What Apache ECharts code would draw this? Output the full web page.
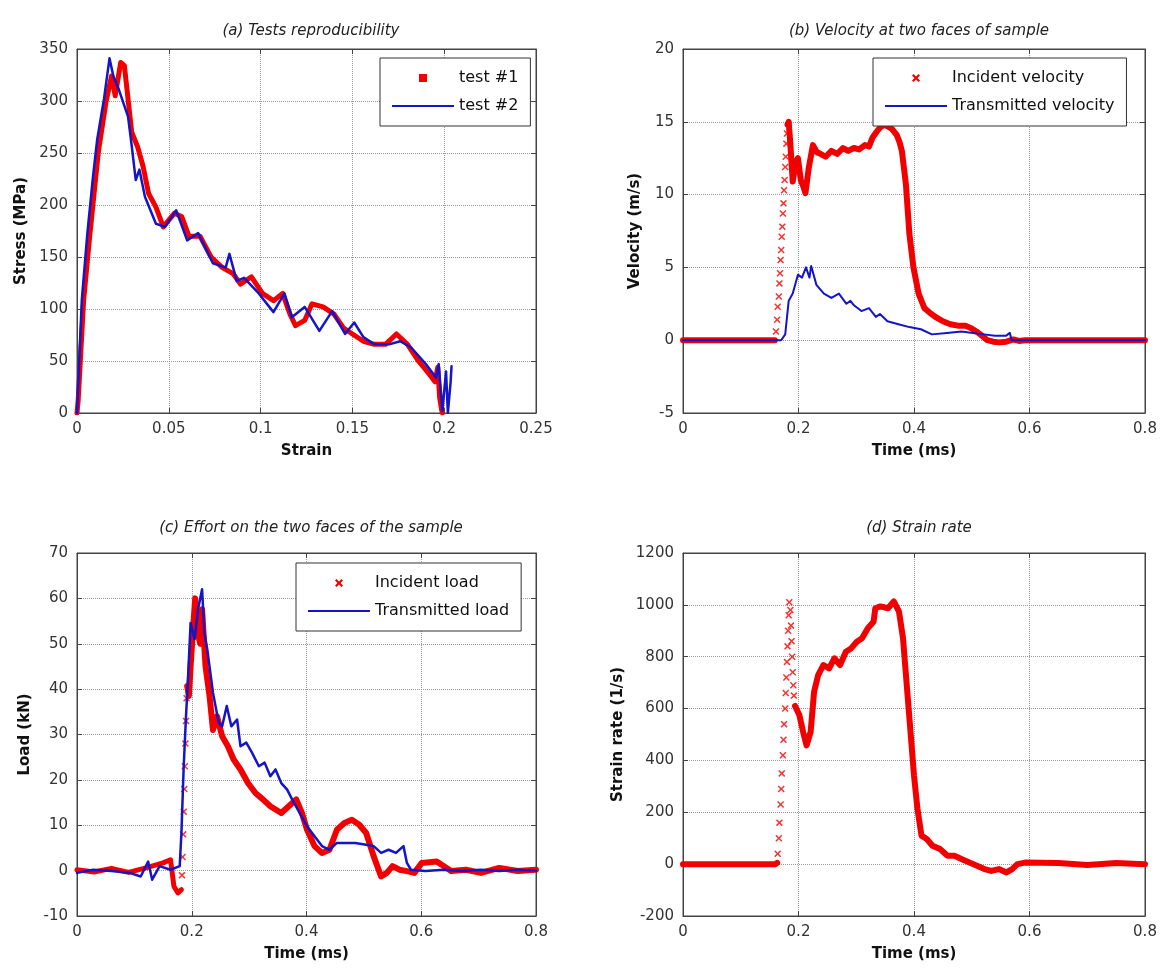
<!DOCTYPE html>
<html>
<head>
<meta charset="utf-8">
<script src="https://cdn.jsdelivr.net/npm/echarts@6/dist/echarts.min.js"></script>
<style>
  html, body { margin: 0; padding: 0; background: #fff; }
  #chart { width: 1161px; height: 968px; }
</style>
</head>
<body>
<div id="chart"></div>
<script>
const FONT = "DejaVu Sans";

// ---- (a) stress / strain ----
const stressTest1 = [
  [0, 0], [0.0006, 11], [0.0036, 108], [0.0067, 166], [0.0097, 218], [0.0117, 252],
  [0.0157, 298], [0.0188, 324], [0.0208, 305], [0.0238, 337], [0.0258, 334], [0.0278, 302],
  [0.0298, 270], [0.033, 256], [0.036, 237], [0.039, 211], [0.043, 198], [0.047, 179],
  [0.053, 192], [0.057, 189], [0.061, 170], [0.067, 170], [0.073, 150], [0.079, 140],
  [0.085, 134], [0.089, 124], [0.095, 131], [0.101, 115], [0.107, 108], [0.112, 115],
  [0.116, 95], [0.119, 84], [0.124, 89], [0.128, 105], [0.134, 102], [0.14, 95],
  [0.145, 82], [0.15, 76], [0.156, 69], [0.162, 66], [0.168, 66], [0.174, 76],
  [0.18, 66], [0.186, 50], [0.192, 37], [0.195, 30], [0.1965, 44], [0.1975, 15],
  [0.1985, 4], [0.199, 0]
];
const stressTest2 = [
  [0, 0], [0.0026, 108], [0.0056, 172], [0.0087, 227], [0.011, 263], [0.0147, 302],
  [0.0177, 341], [0.0198, 324], [0.0228, 311], [0.0278, 285], [0.0298, 257], [0.032, 224],
  [0.034, 234], [0.037, 208], [0.043, 182], [0.048, 179], [0.054, 195], [0.06, 166],
  [0.066, 173], [0.074, 144], [0.081, 140], [0.083, 153], [0.087, 127], [0.091, 130],
  [0.099, 115], [0.107, 97], [0.113, 115], [0.117, 92], [0.124, 102], [0.132, 79],
  [0.139, 98], [0.146, 76], [0.151, 87], [0.156, 73], [0.162, 66], [0.17, 66],
  [0.176, 69], [0.182, 63], [0.19, 47], [0.1956, 34], [0.197, 47], [0.199, 2],
  [0.201, 40], [0.202, 0], [0.2035, 30], [0.204, 45]
];

// ---- (b) velocities ----
const incidentVelBase = [[0, 0], [0.08, 0], [0.159, 0]];
const incidentVelRise = [
  [0.161, 0.6], [0.163, 1.4], [0.164, 2.3], [0.166, 3.0], [0.167, 3.9], [0.168, 4.6],
  [0.169, 5.5], [0.170, 6.2], [0.171, 7.1], [0.172, 7.8], [0.173, 8.7], [0.174, 9.4],
  [0.175, 10.3], [0.176, 11.0], [0.177, 11.9], [0.178, 12.6], [0.179, 13.5], [0.180, 14.2]
];
const incidentVelMain = [
  [0.181, 14.8], [0.183, 15.0], [0.186, 13.4], [0.19, 10.9], [0.195, 12.2], [0.199, 12.5],
  [0.204, 11.0], [0.209, 10.5], [0.212, 10.1], [0.218, 11.9], [0.225, 13.4], [0.232, 12.9],
  [0.238, 12.8], [0.247, 12.6], [0.257, 13.0], [0.267, 12.8], [0.277, 13.2], [0.286, 13.0],
  [0.296, 13.2], [0.305, 13.1], [0.315, 13.4], [0.322, 13.3], [0.328, 13.9], [0.335, 14.3],
  [0.341, 14.6], [0.348, 14.8], [0.354, 14.7], [0.362, 14.5], [0.37, 14.1], [0.375, 13.6],
  [0.379, 13.0], [0.386, 10.7], [0.392, 7.3], [0.399, 5.0], [0.408, 3.2], [0.418, 2.2],
  [0.427, 1.9], [0.437, 1.6], [0.45, 1.3], [0.463, 1.1], [0.476, 1.0], [0.489, 1.0],
  [0.5, 0.8], [0.508, 0.6], [0.518, 0.3], [0.527, 0], [0.537, -0.1], [0.547, -0.15],
  [0.56, -0.1], [0.572, 0.05], [0.582, -0.05], [0.592, 0], [0.7, 0], [0.8, 0]
];
const transmittedVel = [
  [0, 0], [0.1, 0], [0.17, 0], [0.177, 0.4], [0.183, 2.7], [0.19, 3.2], [0.199, 4.5],
  [0.206, 4.3], [0.213, 5.0], [0.219, 4.3], [0.222, 5.1], [0.231, 3.8], [0.244, 3.2],
  [0.257, 2.9], [0.27, 3.2], [0.283, 2.5], [0.29, 2.7], [0.296, 2.4], [0.309, 2.0],
  [0.322, 2.2], [0.334, 1.6], [0.341, 1.8], [0.354, 1.3], [0.373, 1.1], [0.392, 0.9],
  [0.412, 0.75], [0.431, 0.4], [0.457, 0.5], [0.482, 0.6], [0.502, 0.5], [0.521, 0.4],
  [0.54, 0.3], [0.559, 0.3], [0.566, 0.5], [0.569, 0], [0.7, 0], [0.8, 0]
];

// ---- (c) loads ----
const incidentLoadBase = [
  [0, 0.2], [0.03, -0.3], [0.06, 0.5], [0.09, -0.4], [0.12, 0.6], [0.15, 1.7],
  [0.163, 2.4], [0.169, -3.5], [0.176, -4.9], [0.182, -4.2]
];
const incidentLoadRise = [
  [0.183, -1], [0.184, 3], [0.185, 8], [0.186, 13], [0.187, 18], [0.188, 23],
  [0.189, 28], [0.19, 33], [0.191, 38]
];
const incidentLoadMain = [
  [0.192, 40.7], [0.195, 38.5], [0.198, 45], [0.201, 51], [0.206, 60], [0.211, 52],
  [0.215, 50], [0.218, 57.6], [0.224, 45], [0.231, 38.5], [0.237, 31], [0.244, 34],
  [0.253, 29.6], [0.263, 27.4], [0.273, 24.5], [0.285, 22.3], [0.298, 19.3], [0.311, 17.1],
  [0.324, 15.7], [0.337, 14.2], [0.356, 12.7], [0.369, 14.2], [0.382, 15.7], [0.392, 12.7],
  [0.401, 9.0], [0.414, 5.4], [0.427, 3.9], [0.44, 4.6], [0.453, 9.0], [0.466, 10.5],
  [0.479, 11.2], [0.492, 10.1], [0.504, 8.3], [0.517, 3.2], [0.53, -1.3], [0.54, -0.5],
  [0.55, 1.0], [0.562, 0.2], [0.575, -0.1], [0.588, -0.5], [0.601, 1.7], [0.627, 2.0],
  [0.652, -0.1], [0.678, 0.2], [0.704, -0.5], [0.736, 0.6], [0.768, -0.1], [0.8, 0.2]
];
const transmittedLoad = [
  [0, -0.5], [0.028, 0.2], [0.06, -0.1], [0.092, -0.5], [0.111, -1.3], [0.124, 2.0],
  [0.131, -2.0], [0.144, 1.0], [0.163, 0.2], [0.179, 1.0], [0.182, 8.3], [0.186, 23],
  [0.19, 34], [0.194, 43.8], [0.198, 54.6], [0.205, 51], [0.211, 57.6], [0.218, 62],
  [0.222, 52.5], [0.227, 48.8], [0.237, 39.2], [0.247, 32.6], [0.253, 31.8], [0.261, 36.3],
  [0.269, 31.8], [0.279, 33.3], [0.285, 27.4], [0.295, 28.2], [0.305, 26], [0.317, 23],
  [0.327, 23.8], [0.337, 20.8], [0.346, 22.3], [0.356, 19.3], [0.366, 17.9], [0.375, 15.7],
  [0.388, 12.7], [0.401, 9.8], [0.414, 7.6], [0.427, 5.4], [0.44, 4.6], [0.453, 6.1],
  [0.466, 6.1], [0.485, 6.1], [0.504, 5.7], [0.517, 5.4], [0.53, 3.9], [0.543, 4.6],
  [0.556, 3.9], [0.569, 5.4], [0.575, 1.7], [0.582, 0.2], [0.607, -0.1], [0.64, 0.2],
  [0.672, -0.1], [0.704, 0.2], [0.736, -0.1], [0.768, 0.2], [0.8, 0]
];

// ---- (d) strain rate ----
const strainRateBase = [[0, 0], [0.05, 0], [0.1, 0], [0.16, 0], [0.163, 5]];
const strainRateRise = [
  [0.164, 40], [0.166, 100], [0.167, 160], [0.169, 230], [0.17, 290], [0.171, 350],
  [0.173, 420], [0.174, 480], [0.175, 540], [0.177, 600], [0.178, 660], [0.179, 720],
  [0.18, 780], [0.181, 840], [0.182, 900], [0.183, 960], [0.184, 1010], [0.186, 980],
  [0.187, 920], [0.188, 860], [0.189, 800], [0.19, 740], [0.191, 690], [0.192, 650]
];
const strainRateMain = [
  [0.194, 610], [0.2016, 574], [0.208, 510], [0.214, 458], [0.221, 510], [0.227, 665],
  [0.234, 729], [0.243, 768], [0.253, 755], [0.262, 794], [0.272, 768], [0.282, 819],
  [0.291, 832], [0.301, 858], [0.31, 871], [0.32, 910], [0.33, 935], [0.333, 987],
  [0.342, 994], [0.355, 987], [0.365, 1013], [0.374, 974], [0.381, 871], [0.387, 703],
  [0.394, 510], [0.4, 342], [0.406, 213], [0.413, 110], [0.422, 97], [0.432, 71],
  [0.445, 58], [0.458, 32], [0.47, 32], [0.483, 19], [0.496, 6], [0.509, -6],
  [0.522, -19], [0.534, -26], [0.547, -19], [0.56, -32], [0.57, -19], [0.579, 0],
  [0.592, 6], [0.65, 4], [0.7, -3], [0.75, 4], [0.8, 0]
];

// axis ranges [min, max, interval]
const strainRange = [0, 0.25, 0.05];
const timeRange = [0, 0.8, 0.2];
const stressRange = [0, 350, 50];
const velocityRange = [-5, 20, 5];
const loadRange = [-10, 70, 10];
const rateRange = [-200, 1200, 200];

const RED = "#f20000";
const BLUE = "#1414c8";
const xShape = "path://M0,1.5 L1.5,0 L5,3.5 L8.5,0 L10,1.5 L6.5,5 L10,8.5 L8.5,10 L5,6.5 L1.5,10 L0,8.5 L3.5,5 Z";
// invisible corner specks keep the icon box 62x14
const pad = "M0,0 L0.01,0 L0.01,0.01 Z M62,14 L61.99,14 L61.99,13.99 Z ";
const squareIcon = "path://" + pad + "M27,3 L35,3 L35,11 L27,11 Z";
const crossIcon = "path://" + pad + "M27,4.5 L28.5,3 L31,5.5 L33.5,3 L35,4.5 L32.5,7 L35,9.5 L33.5,11 L31,8.5 L28.5,11 L27,9.5 L29.5,7 Z";
const lineIcon = "path://" + pad + "M0,6 L62,6 L62,8 L0,8 Z";

const grids = [
  { left: 77, top: 49, width: 459, height: 364 },
  { left: 683, top: 49, width: 462, height: 364 },
  { left: 77, top: 553, width: 459, height: 363 },
  { left: 683, top: 553, width: 462, height: 363 }
];

const axisLineStyle = { color: "#444", width: 1 };
const nameStyle = { fontFamily: FONT, fontWeight: "bold", fontSize: 15, color: "#111" };
const labelStyle = { fontFamily: FONT, fontSize: 15, color: "#333" };

function mainAxis(gi, range, position, name, nameGap) {
  return {
    type: "value", gridIndex: gi, position: position,
    min: range[0], max: range[1], interval: range[2],
    name: name, nameLocation: "middle", nameGap: nameGap, nameTextStyle: nameStyle,
    axisLine: { show: true, onZero: false, lineStyle: axisLineStyle },
    axisTick: { show: true, inside: true, length: 5, lineStyle: axisLineStyle },
    axisLabel: Object.assign({
      margin: 9,
      // plain numbers, no thousands separator
      formatter: v => String(Math.round(v * 1000) / 1000)
    }, labelStyle),
    splitLine: { show: true, lineStyle: { type: "dotted", color: "#9a9a9a", width: 1 } }
  };
}
function mirrorAxis(gi, range, position) {
  return {
    type: "value", gridIndex: gi, position: position,
    min: range[0], max: range[1], interval: range[2],
    axisLine: { show: true, onZero: false, lineStyle: axisLineStyle },
    axisTick: { show: true, inside: true, length: 5, lineStyle: axisLineStyle },
    axisLabel: { show: false },
    splitLine: { show: false }
  };
}

const xAxes = [
  mainAxis(0, strainRange, "bottom", "Strain", 31),
  mainAxis(1, timeRange, "bottom", "Time (ms)", 31),
  mainAxis(2, timeRange, "bottom", "Time (ms)", 31),
  mainAxis(3, timeRange, "bottom", "Time (ms)", 31),
  mirrorAxis(0, strainRange, "top"),
  mirrorAxis(1, timeRange, "top"),
  mirrorAxis(2, timeRange, "top"),
  mirrorAxis(3, timeRange, "top")
];
const yAxes = [
  mainAxis(0, stressRange, "left", "Stress (MPa)", 48),
  mainAxis(1, velocityRange, "left", "Velocity (m/s)", 40),
  mainAxis(2, loadRange, "left", "Load (kN)", 44),
  mainAxis(3, rateRange, "left", "Strain rate (1/s)", 57),
  mirrorAxis(0, stressRange, "right"),
  mirrorAxis(1, velocityRange, "right"),
  mirrorAxis(2, loadRange, "right"),
  mirrorAxis(3, rateRange, "right")
];

function lineSeries(name, gi, data, color, width) {
  return {
    name: name, type: "line", xAxisIndex: gi, yAxisIndex: gi, data: data,
    color: color, showSymbol: false, symbol: "none",
    lineStyle: { color: color, width: width, cap: "round", join: "round" },
    emphasis: { disabled: true }, animation: false
  };
}
function markerSeries(name, gi, data, color) {
  return {
    name: name, type: "scatter", xAxisIndex: gi, yAxisIndex: gi, data: data,
    color: color, symbol: xShape, symbolSize: 7,
    itemStyle: { color: color }, emphasis: { disabled: true }, animation: false
  };
}

const series = [
  lineSeries("test #1", 0, stressTest1, RED, 5),
  lineSeries("test #2", 0, stressTest2, BLUE, 2.5),

  lineSeries("Incident velocity", 1, incidentVelBase, RED, 6),
  markerSeries("Incident velocity", 1, incidentVelRise, RED),
  lineSeries("Incident velocity", 1, incidentVelMain, RED, 6),
  lineSeries("Transmitted velocity", 1, transmittedVel, BLUE, 2),

  lineSeries("Incident load", 2, incidentLoadBase, RED, 5),
  markerSeries("Incident load", 2, incidentLoadRise, RED),
  lineSeries("Incident load", 2, incidentLoadMain, RED, 6),
  lineSeries("Transmitted load", 2, transmittedLoad, BLUE, 2.5),

  lineSeries("Strain rate", 3, strainRateBase, RED, 6),
  markerSeries("Strain rate", 3, strainRateRise, RED),
  lineSeries("Strain rate", 3, strainRateMain, RED, 6)
];

function legendBox(left, top, items) {
  return {
    left: left, top: top, orient: "vertical", selectedMode: false,
    data: items, itemWidth: 62, itemHeight: 14, itemGap: 12,
    padding: [12, 12, 12, 12],
    backgroundColor: "#fff", borderColor: "#333", borderWidth: 1, borderRadius: 0,
    textStyle: { fontFamily: FONT, fontSize: 16, color: "#111" }
  };
}

function titleAt(text, cx, top) {
  return {
    text: text, left: cx, top: top, textAlign: "center",
    textStyle: { fontFamily: FONT, fontStyle: "italic", fontWeight: "normal", fontSize: 15, color: "#222" }
  };
}

const chart = echarts.init(document.getElementById("chart"));
chart.setOption({
  backgroundColor: "#fff",
  animation: false,
  title: [
    titleAt("(a) Tests reproducibility", 306, 19),
    titleAt("(b) Velocity at two faces of sample", 914, 19),
    titleAt("(c) Effort on the two faces of the sample", 306, 516),
    titleAt("(d) Strain rate", 914, 516)
  ],
  legend: [
    legendBox(380, 58, [{ name: "test #1", icon: squareIcon }, { name: "test #2", icon: lineIcon }]),
    legendBox(873, 58, [{ name: "Incident velocity", icon: crossIcon }, { name: "Transmitted velocity", icon: lineIcon }]),
    legendBox(296, 563, [{ name: "Incident load", icon: crossIcon }, { name: "Transmitted load", icon: lineIcon }])
  ],
  grid: grids.map(g => Object.assign({ show: true, borderColor: "#444", borderWidth: 1, backgroundColor: "#fff" }, g)),
  xAxis: xAxes,
  yAxis: yAxes,
  series: series
});
</script>
</body>
</html>
